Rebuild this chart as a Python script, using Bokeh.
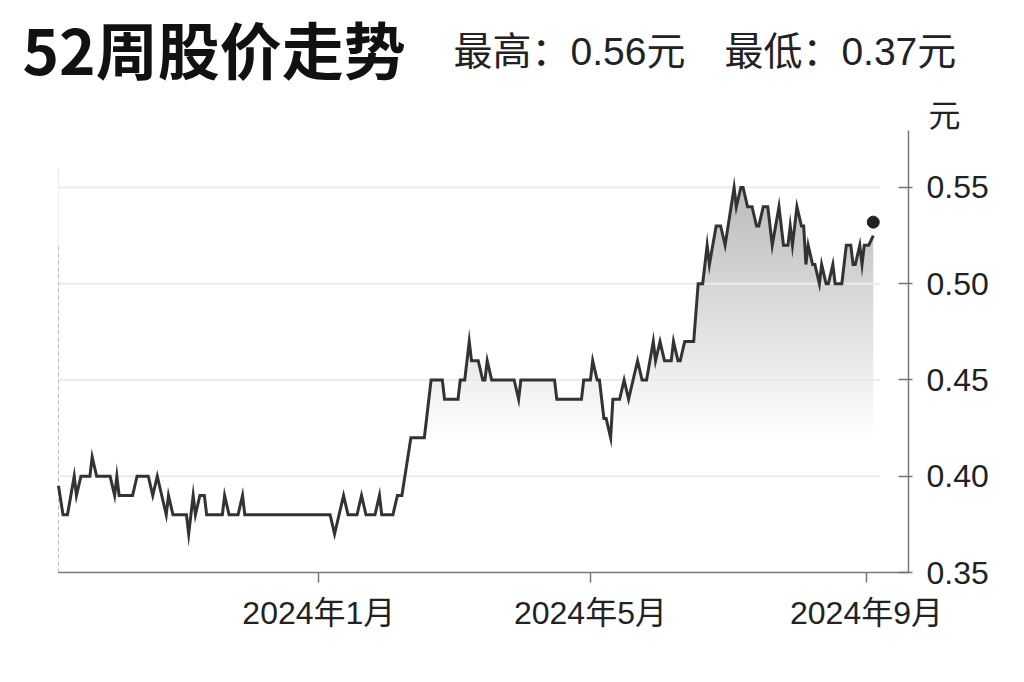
import numpy as np
import pandas as pd
from bokeh.plotting import figure
from bokeh.models import (Range1d, FixedTicker, NumeralTickFormatter, LinearAxis,
                          DatetimeAxis)
from bokeh.core.properties import value
from bokeh.embed import file_html
from bokeh.resources import INLINE

# ---------------- data ----------------
dates = [
    "2023-09-07", "2023-09-09", "2023-09-11", "2023-09-14", "2023-09-15", "2023-09-17",
    "2023-09-21", "2023-09-22", "2023-09-24", "2023-09-30", "2023-10-02", "2023-10-03",
    "2023-10-04", "2023-10-10", "2023-10-12", "2023-10-17", "2023-10-19", "2023-10-21",
    "2023-10-23", "2023-10-25", "2023-10-26", "2023-10-28", "2023-11-03", "2023-11-04",
    "2023-11-06", "2023-11-07", "2023-11-09", "2023-11-11", "2023-11-12", "2023-11-19",
    "2023-11-20", "2023-11-22", "2023-11-26", "2023-11-28", "2023-11-29",
    "2024-01-06", "2024-01-08", "2024-01-12", "2024-01-14", "2024-01-18", "2024-01-20",
    "2024-01-22", "2024-01-26", "2024-01-28", "2024-01-29", "2024-02-03", "2024-02-05",
    "2024-02-07", "2024-02-11", "2024-02-17", "2024-02-18", "2024-02-20", "2024-02-25",
    "2024-02-26", "2024-03-03", "2024-03-04", "2024-03-06", "2024-03-08", "2024-03-09",
    "2024-03-12", "2024-03-14", "2024-03-15", "2024-03-16", "2024-03-18", "2024-03-28",
    "2024-03-30", "2024-03-31", "2024-04-15", "2024-04-16", "2024-04-27", "2024-04-28",
    "2024-05-01", "2024-05-02", "2024-05-04", "2024-05-05", "2024-05-07", "2024-05-08",
    "2024-05-10", "2024-05-11", "2024-05-14", "2024-05-16", "2024-05-18", "2024-05-22",
    "2024-05-24", "2024-05-26", "2024-05-29", "2024-05-30", "2024-06-01", "2024-06-03",
    "2024-06-06", "2024-06-07", "2024-06-09", "2024-06-10", "2024-06-12", "2024-06-16",
    "2024-06-18", "2024-06-20", "2024-06-22", "2024-06-23", "2024-06-26", "2024-06-28",
    "2024-06-30", "2024-07-04", "2024-07-05", "2024-07-07", "2024-07-08", "2024-07-10",
    "2024-07-12", "2024-07-14", "2024-07-15", "2024-07-17", "2024-07-19", "2024-07-21",
    "2024-07-24", "2024-07-26", "2024-07-28", "2024-07-29", "2024-07-30", "2024-08-01",
    "2024-08-03", "2024-08-04", "2024-08-05", "2024-08-06", "2024-08-08", "2024-08-09",
    "2024-08-11", "2024-08-12", "2024-08-14", "2024-08-15", "2024-08-17", "2024-08-18",
    "2024-08-21", "2024-08-23", "2024-08-25", "2024-08-26", "2024-08-27", "2024-08-29",
    "2024-08-30", "2024-08-31", "2024-09-02", "2024-09-04",
]
prices = [
    0.395, 0.38, 0.38, 0.40, 0.39, 0.40,
    0.40, 0.41, 0.40, 0.40, 0.39, 0.40,
    0.39, 0.39, 0.40, 0.40, 0.39, 0.40,
    0.39, 0.38, 0.39, 0.38, 0.38, 0.37,
    0.39, 0.38, 0.39, 0.39, 0.38, 0.38,
    0.39, 0.38, 0.38, 0.39, 0.38,
    0.38, 0.37, 0.39, 0.38, 0.38, 0.39,
    0.38, 0.38, 0.39, 0.38, 0.38, 0.39,
    0.39, 0.42, 0.42, 0.43, 0.45, 0.45,
    0.44, 0.44, 0.45, 0.45, 0.47, 0.46,
    0.46, 0.45, 0.45, 0.46, 0.45, 0.45,
    0.44, 0.45, 0.45, 0.44, 0.44, 0.45,
    0.45, 0.46, 0.45, 0.45, 0.43, 0.43,
    0.42, 0.44, 0.44, 0.45, 0.44, 0.46,
    0.45, 0.45, 0.47, 0.46, 0.47, 0.46,
    0.46, 0.47, 0.46, 0.46, 0.47, 0.47,
    0.50, 0.50, 0.52, 0.51, 0.53, 0.53,
    0.52, 0.55, 0.54, 0.55, 0.55, 0.54,
    0.54, 0.53, 0.53, 0.54, 0.54, 0.52,
    0.54, 0.52, 0.52, 0.53, 0.52, 0.54,
    0.53, 0.53, 0.51, 0.52, 0.51, 0.51,
    0.50, 0.51, 0.50, 0.50, 0.51, 0.50,
    0.50, 0.52, 0.52, 0.51, 0.51, 0.52,
    0.51, 0.52, 0.52, 0.525,
]
latest_date = "2024-09-04"
latest_price = 0.532
y_ticks = [0.35, 0.40, 0.45, 0.50, 0.55]
x_tick_dates = ["2024-01-01", "2024-05-01", "2024-09-01"]
x_tick_labels = ["2024年1月", "2024年5月", "2024年9月"]
title_text = "52周股价走势"
high_52w = 0.56
low_52w = 0.37
unit = "元"

# ---------------- geometry (pixels of the canvas) ----------------
W, H = 1008, 666
PLOT_L, PLOT_R, PLOT_T, PLOT_B = 58, 908, 130, 572      # visible chart box
axis_start = pd.Timestamp("2023-09-07")
axis_end = pd.Timestamp("2024-09-19 17:00")
y_lo, y_hi = 0.35, 0.5796

days_per_px = (axis_end - axis_start) / (PLOT_R - PLOT_L)
val_per_px = (y_hi - y_lo) / (PLOT_B - PLOT_T)


def px_x(px):
    return axis_start + (px - PLOT_L) * days_per_px


def px_y(py):
    return y_lo + (PLOT_B - py) * val_per_px


x = pd.to_datetime(dates)
x_last = pd.Timestamp(latest_date)

# frame covers the whole canvas; axes are fixed to the chart box and bounded
p = figure(width=W, height=H, x_axis_location=None, y_axis_location=None,
           x_range=Range1d(px_x(0), px_x(W)), y_range=Range1d(px_y(H), px_y(0)),
           output_backend="svg", toolbar_location=None, min_border=0)
p.outline_line_color = None
p.xgrid.grid_line_color = None
p.ygrid.grid_line_color = None
p.background_fill_color = "white"
p.border_fill_color = "white"

# vertical grey gradient under the line (image), masked white above the line
top_fill = max(prices) + 0.01
rows = 256
levels = np.linspace(y_lo, top_fill, rows)
gray = np.clip(255 - (levels - 0.42) * 515, 0, 255).astype(np.uint8)
img = np.empty((rows, 2), dtype=np.uint32)
view = img.view(dtype=np.uint8).reshape((rows, 2, 4))
for c in range(3):
    view[:, :, c] = gray[:, None]
view[:, :, 3] = 255
x0_ms = x[0].value / 1e6
dw_ms = (x[-1] - x[0]).total_seconds() * 1000.0
p.image_rgba(image=[img], x=x0_ms, y=y_lo, dw=dw_ms, dh=top_fill - y_lo)
p.varea(x=x, y1=prices, y2=top_fill + 0.01, fill_color="white", fill_alpha=1.0)
p.quad(left=[x_last - pd.Timedelta(hours=12)], right=[x_last + pd.Timedelta(days=1)],
       bottom=[prices[-1]], top=[top_fill + 0.01], fill_color="white", line_color=None)

# light horizontal guide lines at the tick levels
g_levels = y_ticks[1:]
p.segment(x0=[x[0]] * len(g_levels), x1=[x[-1] + pd.Timedelta(days=3)] * len(g_levels),
          y0=g_levels, y1=g_levels, line_color="#ebebeb", line_width=2)

# dashed start marker
p.segment(x0=[x[0]], x1=[x[0]], y0=[y_lo], y1=[0.52],
          line_color="#bbbbbb", line_width=1, line_dash="4 3")

# price line and latest point
p.line(x, prices, line_color="#333333", line_width=3, line_join="miter")
p.scatter([x_last], [latest_price], size=12, color="#222222")

# y axis (right side of the chart box)
ya = LinearAxis(fixed_location=axis_end.value / 1e6, bounds=(y_lo, y_hi))
ya.ticker = FixedTicker(ticks=y_ticks)
ya.formatter = NumeralTickFormatter(format="0.00")
ya.axis_line_color = "#777777"
ya.axis_line_width = 1.5
ya.major_tick_line_color = "#777777"
ya.major_tick_line_width = 1.5
ya.major_tick_in = 10
ya.major_tick_out = 4
ya.minor_tick_line_color = None
ya.major_label_text_font = "Liberation Sans"
ya.major_label_text_font_size = "32px"
ya.major_label_text_color = "#222222"
ya.major_label_standoff = 14
p.add_layout(ya, "right")

# x axis (bottom of the chart box)
tick_ms = [pd.Timestamp(d).value / 1e6 for d in x_tick_dates]
xa = DatetimeAxis(fixed_location=y_lo, bounds=(axis_start.value / 1e6, axis_end.value / 1e6))
xa.ticker = FixedTicker(ticks=tick_ms)
xa.major_label_overrides = {t: l for t, l in zip(tick_ms, x_tick_labels)}
xa.axis_line_color = "#777777"
xa.axis_line_width = 1.5
xa.major_tick_line_color = "#777777"
xa.major_tick_line_width = 1.5
xa.major_tick_in = 0
xa.major_tick_out = 10
xa.minor_tick_line_color = None
xa.major_label_text_font = "Liberation Sans, Noto Sans CJK SC"
xa.major_label_text_font_size = "32px"
xa.major_label_text_color = "#222222"
xa.major_label_standoff = 12
p.add_layout(xa, "below")

# header texts
p.text(x=[px_x(22)], y=[px_y(47)], text=[title_text], text_font=value("Noto Sans CJK SC"),
       text_font_style="bold", text_font_size=value("62px"), text_color="#111111",
       text_baseline="middle", text_align="left")
p.text(x=[px_x(453)], y=[px_y(51)],
       text=[f"最高：{high_52w:.2f}{unit}\u3000最低：{low_52w:.2f}{unit}"],
       text_font=value("Liberation Sans, Noto Sans CJK SC"), text_font_size=value("39px"),
       text_color="#222222", text_baseline="middle", text_align="left")
p.text(x=[px_x(928)], y=[px_y(112)], text=[unit], text_font=value("Noto Sans CJK SC"),
       text_font_size=value("32px"), text_color="#222222",
       text_baseline="middle", text_align="left")

open("out.html", "w").write(file_html(p, INLINE))
